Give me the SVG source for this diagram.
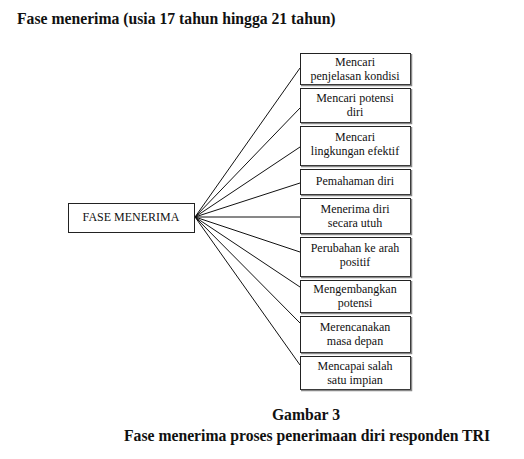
<svg xmlns="http://www.w3.org/2000/svg" width="524" height="459" viewBox="0 0 524 459">
<style>
text{font-family:"Liberation Serif","Times New Roman",serif;fill:#111}
.b{font-weight:bold;font-size:15.7px}
.s{font-size:12px;text-anchor:middle}
.box{fill:#fff;stroke:#222;stroke-width:1}
.sh{fill:none;stroke:#888;stroke-width:1.5}
.ln{stroke:#111;stroke-width:1;fill:none}
</style>
<rect width="524" height="459" fill="#fff"/>
<text class="b" x="17" y="24">Fase menerima (usia 17 tahun hingga 21 tahun)</text>
<g id="connectors">
<line class="ln" x1="195" y1="217" x2="300" y2="68"/>
<line class="ln" x1="195" y1="217" x2="300" y2="108"/>
<line class="ln" x1="195" y1="217" x2="300" y2="147"/>
<line class="ln" x1="195" y1="217" x2="300" y2="183"/>
<line class="ln" x1="195" y1="217" x2="300" y2="217"/>
<line class="ln" x1="195" y1="217" x2="300" y2="252"/>
<line class="ln" x1="195" y1="217" x2="300" y2="287"/>
<line class="ln" x1="195" y1="217" x2="300" y2="323"/>
<line class="ln" x1="195" y1="217" x2="300" y2="365"/>
</g>
<g id="main">
<rect class="box" x="68.5" y="203.5" width="126" height="29"/>
<text class="s" x="131" y="221">FASE MENERIMA</text>
</g>
<g id="n1">
<rect class="box" x="300.5" y="53.5" width="110" height="31"/>
<path class="sh" d="M301 85.5H411.5V54"/>
<text class="s" x="355" y="66">Mencari</text>
<text class="s" x="355" y="79.5">penjelasan kondisi</text>
</g>
<g id="n2">
<rect class="box" x="300.5" y="88.5" width="110" height="34"/>
<path class="sh" d="M301 123.5H411.5V89"/>
<text class="s" x="355" y="102">Mencari potensi</text>
<text class="s" x="355" y="115.5">diri</text>
</g>
<g id="n3">
<rect class="box" x="300.5" y="126.5" width="110" height="39"/>
<path class="sh" d="M301 166.5H411.5V127"/>
<text class="s" x="355" y="141">Mencari</text>
<text class="s" x="355" y="155">lingkungan efektif</text>
</g>
<g id="n4">
<rect class="box" x="300.5" y="169.5" width="110" height="25"/>
<path class="sh" d="M301 195.5H411.5V170"/>
<text class="s" x="355" y="185">Pemahaman diri</text>
</g>
<g id="n5">
<rect class="box" x="300.5" y="198.5" width="110" height="35"/>
<path class="sh" d="M301 234.5H411.5V199"/>
<text class="s" x="355" y="213">Menerima diri</text>
<text class="s" x="355" y="227">secara utuh</text>
</g>
<g id="n6">
<rect class="box" x="300.5" y="237.5" width="110" height="39"/>
<path class="sh" d="M301 277.5H411.5V238"/>
<text class="s" x="355" y="252">Perubahan ke arah</text>
<text class="s" x="355" y="266">positif</text>
</g>
<g id="n7">
<rect class="box" x="300.5" y="280.5" width="110" height="32"/>
<path class="sh" d="M301 313.5H411.5V281"/>
<text class="s" x="355" y="293">Mengembangkan</text>
<text class="s" x="355" y="306.5">potensi</text>
</g>
<g id="n8">
<rect class="box" x="300.5" y="316.5" width="110" height="36"/>
<path class="sh" d="M301 353.5H411.5V317"/>
<text class="s" x="355" y="331">Merencanakan</text>
<text class="s" x="355" y="345">masa depan</text>
</g>
<g id="n9">
<rect class="box" x="300.5" y="356.5" width="110" height="33"/>
<path class="sh" d="M301 390.5H411.5V357"/>
<text class="s" x="355" y="370">Mencapai salah</text>
<text class="s" x="355" y="384">satu impian</text>
</g>
<text class="b" x="306" y="420" text-anchor="middle">Gambar 3</text>
<text class="b" x="307" y="441" text-anchor="middle">Fase menerima proses penerimaan diri responden TRI</text>
</svg>
